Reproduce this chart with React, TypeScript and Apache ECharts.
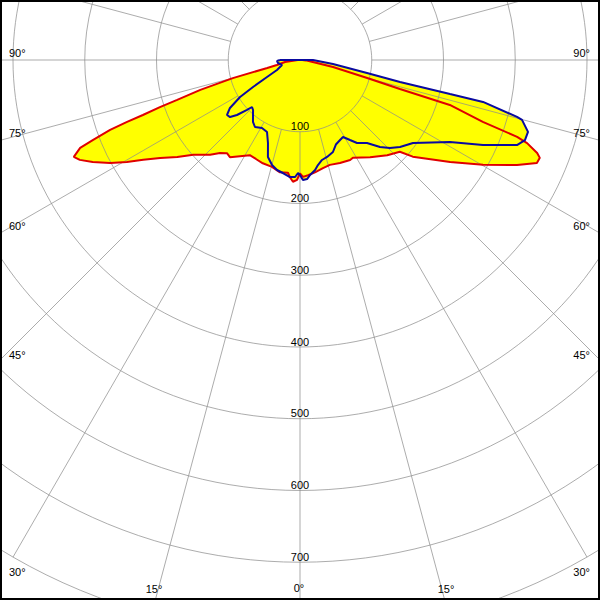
import React, { useEffect, useRef } from "react";
import * as echarts from "echarts";

// Luminous intensity curves: signed gamma angle (negative = left half), value
const RED_GAMMA = [-90, -82.4, -77.7, -76.4, -74.9, -73.3, -72.0, -71.4, -70.7, -70.3, -69.8, -68.9, -68.2, -66.8, -65.6, -63.8, -61.5, -59.5, -57.5, -55.0, -51.7, -48.4, -46.5, -43.5, -40.7, -38.1, -35.8, -32.0, -27.8, -24.0, -19.8, -14.7, -10.1, -6.1, -4.9, -3.3, -1.4, 0, 1.5, 4.0, 7.6, 12.0, 15.9, 21.2, 26.6, 28.4, 35.8, 42.5, 47.4, 49.4, 55.8, 60.2, 64.2, 66.5, 67.8, 68.6, 69.9, 70.5, 71.3, 73.3, 73.8, 75.0, 78.0, 81.0, 86.0, 90];
const RED_CD = [3, 21, 33, 47, 97, 145, 180, 206, 232, 256, 282, 309, 330, 343, 337, 322, 301, 280, 259, 238, 218, 199, 192, 182, 171, 165, 167, 158, 150, 151, 153, 154, 159, 158, 164, 170, 167, 158, 163, 161, 158, 154, 152, 154, 156, 155, 167, 180, 189, 207, 253, 294, 336, 360, 361, 355, 337, 321, 269, 218, 145, 97, 47, 18, 8, 3];

const BLUE_GAMMA = [-90, -87.5, -82.2, -74.5, -66.5, -62.7, -60.1, -58.3, -55.6, -53.0, -50.8, -48.9, -46.7, -45.6, -43.2, -37.2, -33.9, -29.2, -24.6, -21.1, -18.3, -14.9, -11.8, -8.6, -4.9, -2.4, -1.0, 0, 1.4, 3.4, 5.0, 7.8, 9.7, 12.4, 15.6, 19.7, 23.0, 26.6, 29.2, 32.0, 34.5, 38.9, 42.6, 45.6, 49.0, 53.7, 61.3, 65.1, 68.6, 70.4, 72.5, 74.9, 75.3, 77.1, 77.2, 77.6, 79.0, 83.1, 90, -90];
const BLUE_CD = [27.9, 32.1, 30.9, 26, 35, 51.7, 75.5, 98.2, 118.3, 127.4, 125.8, 116.6, 101.5, 93.6, 95.6, 108.4, 112.5, 108.6, 110.4, 124, 142.4, 151.5, 156.6, 159.3, 163.7, 163.2, 157.5, 160.3, 167.3, 166.2, 160.9, 154.7, 148.5, 142.7, 140.3, 136.2, 128, 124.7, 122.9, 131.5, 140.3, 148.7, 164.7, 175.4, 184.7, 195.4, 238.3, 281.2, 324.8, 332.8, 333.2, 320.5, 312.7, 261.7, 214.4, 142.7, 95.1, 46.3, 18.1, 27.9];

const RADIUS_MIN = 0;
const RADIUS_MAX = 800;
const RADIUS_STEP = 100;
const SPOKE_FROM = 100;
const ANGLE_STEP = 15;

const SIDE_LABELS = ["90°", "75°", "60°", "45°", "30°"];
const BOTTOM_LABELS = ["15°", "0°", "15°"];

const toAngle = (g: number) => (g + 360) % 360;
const toData = (gs: number[], vs: number[]) => gs.map((g, i) => [vs[i], toAngle(g)]);

export default function App() {
  const ref = useRef<HTMLDivElement>(null);

  useEffect(() => {
    if (!ref.current) return;
    const chart = echarts.init(ref.current, undefined, { renderer: "svg" });
    const font = "Liberation Sans";
    const gridColor = "rgba(140,140,140,0.72)";
    const sideY = [53, 133, 226, 355, 572];
    const bottomPos = [
      [154, 589],
      [299, 588],
      [446, 589],
    ];
    const texts: any[] = [];
    SIDE_LABELS.forEach((t, i) => {
      texts.push({ type: "text", x: 9, y: sideY[i], z: 100, style: { text: t, fill: "#000", fontSize: 11, fontFamily: font, align: "left", verticalAlign: "middle" } });
      texts.push({ type: "text", x: 590, y: sideY[i], z: 100, style: { text: t, fill: "#000", fontSize: 11, fontFamily: font, align: "right", verticalAlign: "middle" } });
    });
    BOTTOM_LABELS.forEach((t, i) => {
      texts.push({ type: "text", x: bottomPos[i][0], y: bottomPos[i][1], z: 100, style: { text: t, fill: "#000", fontSize: 11, fontFamily: font, align: "center", verticalAlign: "middle" } });
    });
    texts.push({ type: "rect", z: 101, shape: { x: 1, y: 1, width: 598, height: 598 }, style: { fill: "none", stroke: "#000", lineWidth: 2 } });

    const redData = toData(RED_GAMMA, RED_CD);
    const blueData = toData(BLUE_GAMMA, BLUE_CD);
    const spokeAngles: number[] = [];
    for (let a = 0; a < 360; a += ANGLE_STEP) spokeAngles.push(a);

    chart.setOption({
      animation: false,
      backgroundColor: "#fff",
      polar: { center: [300, 60], radius: 574 },
      angleAxis: {
        type: "value",
        min: 0,
        max: 360,
        interval: ANGLE_STEP,
        startAngle: -90,
        clockwise: false,
        z: 5,
        axisLine: { show: false },
        axisTick: { show: false },
        axisLabel: { show: false },
        splitLine: { show: false },
      },
      radiusAxis: {
        type: "value",
        min: RADIUS_MIN,
        max: RADIUS_MAX,
        interval: RADIUS_STEP,
        z: 6,
        axisLine: { show: false },
        axisTick: { show: false },
        splitLine: { show: true, lineStyle: { color: gridColor, width: 1 } },
        axisLabel: {
          show: true,
          showMinLabel: false,
          showMaxLabel: false,
          margin: 0,
          align: "center",
          verticalAlign: "bottom",
          color: "#000000",
          fontSize: 11,
          fontFamily: font,
        },
      },
      graphic: texts,
      series: [
        {
          type: "custom",
          coordinateSystem: "polar",
          z: 1,
          silent: true,
          data: [[0, 0]],
          renderItem: (params: any, api: any) => {
            const red = redData.map((d) => api.coord(d));
            const blue = blueData.map((d) => api.coord(d));
            return {
              type: "group",
              children: [
                { type: "polygon", shape: { points: red }, style: { fill: "#ffff00" } },
                { type: "polygon", shape: { points: blue }, style: { fill: "#ffff00" } },
              ],
            };
          },
        },
        {
          type: "custom",
          coordinateSystem: "polar",
          z: 5,
          silent: true,
          data: [[0, 0]],
          renderItem: (params: any, api: any) => ({
            type: "group",
            children: spokeAngles.map((a) => {
              const p1 = api.coord([SPOKE_FROM, a]);
              const p2 = api.coord([RADIUS_MAX, a]);
              return {
                type: "line",
                shape: { x1: p1[0], y1: p1[1], x2: p2[0], y2: p2[1] },
                style: { stroke: gridColor, lineWidth: 1 },
              };
            }),
          }),
        },
        {
          type: "line",
          coordinateSystem: "polar",
          data: redData,
          symbol: "none",
          clip: false,
          z: 10,
          lineStyle: { color: "#e00000", width: 2 },
        },
        {
          type: "line",
          coordinateSystem: "polar",
          data: blueData,
          symbol: "none",
          clip: false,
          z: 11,
          lineStyle: { color: "#0a0aa0", width: 2 },
        },
      ],
    });
    return () => chart.dispose();
  }, []);

  return <div ref={ref} style={{ position: "fixed", left: 0, top: 0, width: 600, height: 600 }} />;
}
